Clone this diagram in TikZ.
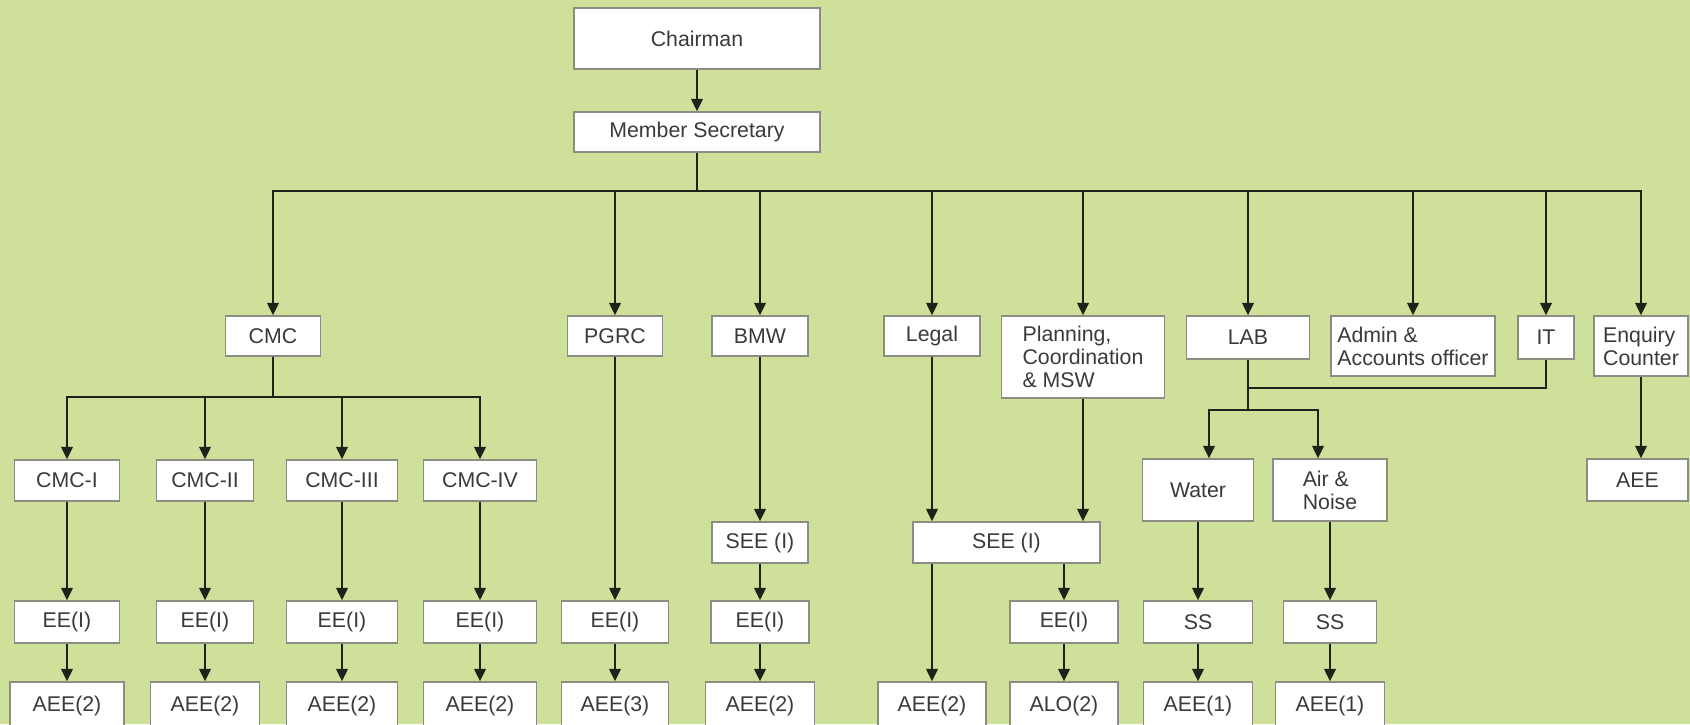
\documentclass[tikz,border=0pt]{standalone}
\usepackage{fontspec}
\setmainfont{Liberation Sans}
\usetikzlibrary{arrows.meta}
\definecolor{bgcol}{RGB}{206,224,154}
\definecolor{lncol}{RGB}{30,34,24}
\definecolor{bdcol}{RGB}{140,140,128}
\definecolor{txcol}{RGB}{58,58,58}
\begin{document}
\begin{tikzpicture}[x=1pt,y=-1pt,
  box/.style={draw=bdcol, line width=1.3pt, fill=white, text=txcol, inner sep=0pt, font=\fontsize{21.3}{23}\selectfont, align=center},
  arr/.style={draw=lncol, line width=2.1pt, -{Triangle[width=11.5pt,length=12.5pt]}},
  conn/.style={draw=lncol, line width=2.1pt}]
\path[use as bounding box] (0,0) rectangle (1690,724);
\fill[bgcol] (0,0) rectangle (1690,724);
\clip (0,0) rectangle (1690,724);
% top
\node[box,minimum width=246pt,minimum height=61pt] (chair) at (697,38.5) {Chairman};
\node[box,minimum width=246pt,minimum height=40pt] (ms) at (697,132) {Member Secretary};
% level 2
\node[box,minimum width=95pt,minimum height=40pt] (cmc) at (273,336) {CMC};
\node[box,minimum width=95pt,minimum height=40pt] (pgrc) at (615,336) {PGRC};
\node[box,minimum width=96pt,minimum height=40pt] (bmw) at (760,336) {BMW};
\node[box,minimum width=96pt,minimum height=40pt] (legal) at (932,336) {Legal};
\node[box,align=left,minimum width=163pt,minimum height=82pt] (plan) at (1083,357) {Planning,\\Coordination\\\& MSW};
\node[box,minimum width=123pt,minimum height=43pt] (lab) at (1248,337.5) {LAB};
\node[box,align=left,minimum width=164pt,minimum height=60pt] (admin) at (1413,346) {Admin \&\\Accounts officer};
\node[box,minimum width=56pt,minimum height=43pt] (it) at (1546,337.5) {IT};
\node[box,align=left,minimum width=94pt,minimum height=60pt] (enq) at (1641,346) {Enquiry\\Counter};
% CMC subtree
\node[box,minimum width=105pt,minimum height=41pt] (cmc1) at (67,480.5) {CMC-I};
\node[box,minimum width=97pt,minimum height=41pt] (cmc2) at (205,480.5) {CMC-II};
\node[box,minimum width=111pt,minimum height=41pt] (cmc3) at (342,480.5) {CMC-III};
\node[box,minimum width=113pt,minimum height=41pt] (cmc4) at (480,480.5) {CMC-IV};
\node[box,minimum width=105pt,minimum height=42pt] (ee1) at (67,622) {EE(I)};
\node[box,minimum width=97pt,minimum height=42pt] (ee2) at (205,622) {EE(I)};
\node[box,minimum width=111pt,minimum height=42pt] (ee3) at (342,622) {EE(I)};
\node[box,minimum width=113pt,minimum height=42pt] (ee4) at (480,622) {EE(I)};
\node[box,minimum width=114pt,minimum height=48pt] (aee1) at (67,706) {AEE(2)};
\node[box,minimum width=109pt,minimum height=48pt] (aee2) at (205,706) {AEE(2)};
\node[box,minimum width=111pt,minimum height=48pt] (aee3) at (342,706) {AEE(2)};
\node[box,minimum width=113pt,minimum height=48pt] (aee4) at (480,706) {AEE(2)};
% PGRC
\node[box,minimum width=107pt,minimum height=42pt] (pgrcee) at (615,622) {EE(I)};
\node[box,minimum width=107pt,minimum height=48pt] (pgrcaee) at (615,706) {AEE(3)};
% BMW
\node[box,minimum width=96pt,minimum height=41pt] (bmwsee) at (760,542.5) {SEE (I)};
\node[box,minimum width=98pt,minimum height=42pt] (bmwee) at (760,622) {EE(I)};
\node[box,minimum width=109pt,minimum height=48pt] (bmwaee) at (760,706) {AEE(2)};
% Legal / Planning
\node[box,minimum width=187pt,minimum height=41pt] (see2) at (1006.5,542.5) {SEE (I)};
\node[box,minimum width=108pt,minimum height=48pt] (legalaee) at (932,706) {AEE(2)};
\node[box,minimum width=108pt,minimum height=42pt] (planee) at (1064,622) {EE(I)};
\node[box,minimum width=108pt,minimum height=48pt] (alo) at (1064,706) {ALO(2)};
% LAB
\node[box,minimum width=111pt,minimum height=62pt] (water) at (1198,490) {Water};
\node[box,align=left,minimum width=114pt,minimum height=62pt] (air) at (1330,490) {Air \&\\Noise};
\node[box,minimum width=109pt,minimum height=42pt] (ss1) at (1198,622) {SS};
\node[box,minimum width=93pt,minimum height=42pt] (ss2) at (1330,622) {SS};
\node[box,minimum width=109pt,minimum height=48pt] (aeew) at (1198,706) {AEE(1)};
\node[box,minimum width=109pt,minimum height=48pt] (aeea) at (1330,706) {AEE(1)};
% Enquiry
\node[box,minimum width=101pt,minimum height=42pt] (enqaee) at (1637.5,480) {AEE};
% connectors
\coordinate (bus) at (697,191);
\draw[arr] (chair) -- (ms);
\draw[conn] (ms.south) -- (bus);
\foreach \n in {cmc,pgrc,bmw,legal,plan,lab,admin,it,enq}
  \draw[arr] (bus) -| (\n.north);
\coordinate (cmcbus) at (273,397);
\draw[conn] (cmc.south) -- (cmcbus);
\foreach \i in {1,2,3,4}{
  \draw[arr] (cmcbus) -| (cmc\i.north);
  \draw[arr] (cmc\i) -- (ee\i);
  \draw[arr] (ee\i) -- (aee\i);
}
\draw[arr] (pgrc) -- (pgrcee);
\draw[arr] (pgrcee) -- (pgrcaee);
\draw[arr] (bmw) -- (bmwsee);
\draw[arr] (bmwsee) -- (bmwee);
\draw[arr] (bmwee) -- (bmwaee);
\draw[arr] (legal.south) -- (legal.south |- see2.north);
\draw[arr] (plan.south) -- (plan.south |- see2.north);
\draw[arr] (see2.south -| legalaee.north) -- (legalaee.north);
\draw[arr] (see2.south -| planee.north) -- (planee.north);
\draw[arr] (planee) -- (alo);
\coordinate (labbus) at (1248,410);
\coordinate (labjoin) at (1248,388);
\draw[conn] (lab.south) -- (labbus);
\draw[arr] (labbus) -| ([xshift=11pt]water.north);
\draw[arr] (labbus) -| ([xshift=-12pt]air.north);
\draw[conn] (it.south) |- (labjoin);
\draw[arr] (water) -- (ss1);
\draw[arr] (ss1) -- (aeew);
\draw[arr] (air) -- (ss2);
\draw[arr] (ss2) -- (aeea);
\draw[arr] (enq.south) -- (enq.south |- enqaee.north);
\end{tikzpicture}
\end{document}
